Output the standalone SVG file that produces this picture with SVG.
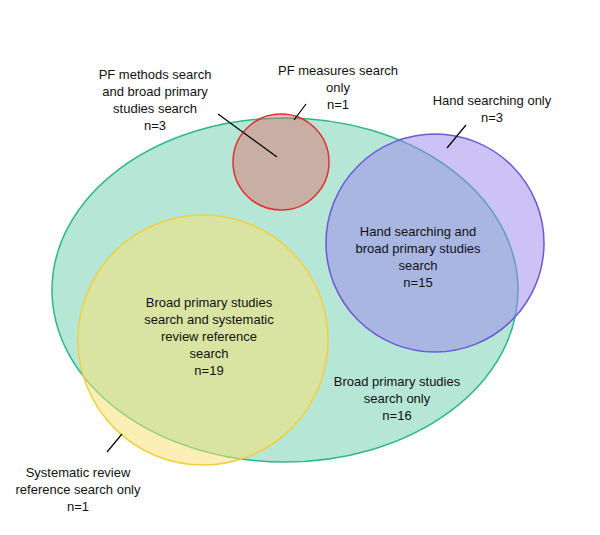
<svg xmlns="http://www.w3.org/2000/svg" width="600" height="535" viewBox="0 0 600 535">
<style>
text{font-family:"Liberation Sans",Arial,sans-serif;font-size:13px;fill:#111;text-anchor:middle}
.l{stroke:#000;stroke-width:1.2}
</style>
<rect width="600" height="535" fill="#fff"/>
<g id="broad"><ellipse cx="285" cy="290" rx="233" ry="172" fill="#2db88a" fill-opacity="0.35" stroke="#2db88a" stroke-width="1.5"/></g>
<g id="hand"><circle cx="435" cy="243" r="109" fill="#9a85eb" fill-opacity="0.5" stroke="#6a5ad6" stroke-width="1.5"/></g>
<g id="systematic"><circle cx="203" cy="340" r="125" fill="#f7e278" fill-opacity="0.55" stroke="#f0d040" stroke-width="1.5"/></g>
<g id="pf"><circle cx="281" cy="162" r="48" fill="#e06a6a" fill-opacity="0.45" stroke="#e03030" stroke-width="1.5"/></g>
<g id="connectors">
<line class="l" x1="277" y1="157" x2="218" y2="114"/>
<line class="l" x1="294" y1="120" x2="306" y2="104"/>
<line class="l" x1="447" y1="148" x2="466" y2="125"/>
<line class="l" x1="122" y1="434" x2="107" y2="452"/>
</g>
<g id="labels">
<text x="155" y="79">PF methods search</text>
<text x="155" y="96">and broad primary</text>
<text x="155" y="113">studies search</text>
<text x="155" y="130">n=3</text>
<text x="338" y="75">PF measures search</text>
<text x="338" y="92">only</text>
<text x="338" y="109">n=1</text>
<text x="492" y="105">Hand searching only</text>
<text x="492" y="122">n=3</text>
<text x="418" y="236">Hand searching and</text>
<text x="418" y="253">broad primary studies</text>
<text x="418" y="270">search</text>
<text x="418" y="287">n=15</text>
<text x="209" y="307">Broad primary studies</text>
<text x="209" y="324">search and systematic</text>
<text x="209" y="341">review reference</text>
<text x="209" y="358">search</text>
<text x="209" y="375">n=19</text>
<text x="397" y="386">Broad primary studies</text>
<text x="397" y="403">search only</text>
<text x="397" y="420">n=16</text>
<text x="78" y="477">Systematic review</text>
<text x="78" y="494">reference search only</text>
<text x="78" y="511">n=1</text>
</g>
</svg>
